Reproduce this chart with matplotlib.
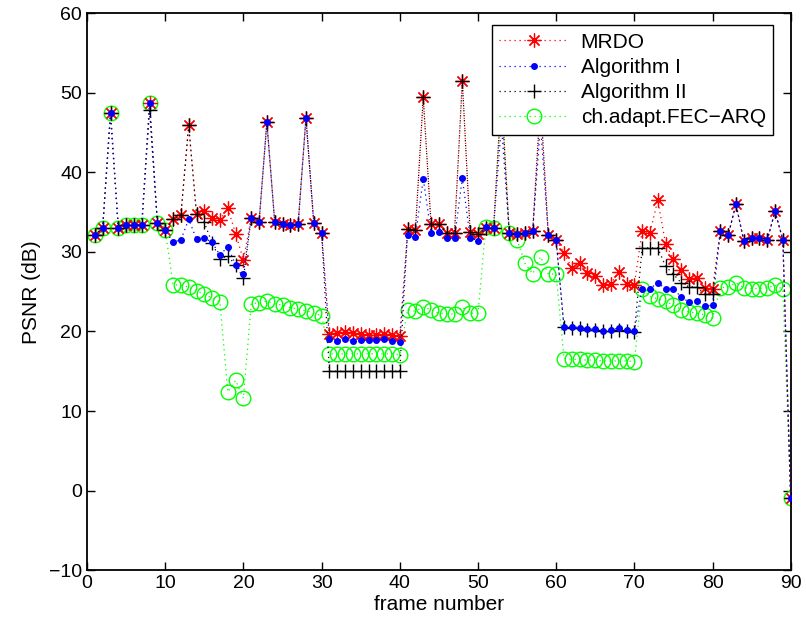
import numpy as np
import matplotlib
matplotlib.use("Agg")
import matplotlib.pyplot as plt

plt.rcParams['font.family'] = ['Liberation Sans', 'DejaVu Sans']

frames = list(range(1, 91))

mrdo = [32.1, 33.0, 47.4, 33.0, 33.4, 33.4, 33.4, 48.7, 33.6, 32.7,
        34.1, 34.6, 45.9, 34.8, 35.1, 34.2, 34.0, 35.5, 32.3, 29.0,
        34.3, 33.7, 46.3, 33.8, 33.5, 33.4, 33.5, 46.85, 33.6, 32.4,
        19.7, 19.8, 19.9, 19.8, 19.7, 19.6, 19.5, 19.7, 19.5, 19.4,
        32.9, 32.7, 49.45, 33.5, 33.5, 32.4, 32.4, 51.5, 32.5, 32.2,
        33.0, 33.0, 50.0, 32.4, 32.3, 32.4, 32.6, 49.0, 32.1, 31.5,
        29.9, 28.0, 28.6, 27.4, 27.0, 25.9, 26.0, 27.5, 26.0, 25.9,
        32.6, 32.4, 36.5, 31.0, 29.1, 27.7, 26.55, 26.75, 25.5, 25.3,
        32.6, 32.1, 36.0, 31.4, 31.8, 31.8, 31.5, 35.1, 31.5, -0.9]

alg1 = [32.1, 33.0, 47.4, 33.0, 33.4, 33.4, 33.4, 48.7, 33.6, 32.7,
        31.25, 31.5, 34.1, 31.6, 31.75, 31.2, 29.6, 30.65, 28.4, 27.2,
        34.3, 33.7, 46.3, 33.8, 33.5, 33.4, 33.5, 46.85, 33.6, 32.4,
        19.05, 18.85, 19.05, 18.85, 18.9, 18.9, 18.9, 19.0, 18.85, 18.7,
        32.1, 31.9, 39.2, 32.4, 32.55, 31.7, 31.7, 39.3, 31.8, 31.4,
        33.1, 33.0, 46.0, 32.4, 32.3, 32.4, 32.6, 46.0, 32.1, 31.5,
        20.6, 20.6, 20.5, 20.3, 20.3, 20.0, 20.15, 20.45, 20.15, 20.0,
        25.4, 25.4, 26.1, 25.4, 25.4, 24.3, 23.7, 23.8, 23.2, 23.3,
        32.6, 32.1, 36.0, 31.4, 31.8, 31.8, 31.5, 35.1, 31.5, -0.9]

alg2 = [32.1, 33.0, 47.4, 33.0, 33.4, 33.4, 33.4, 47.8, 33.6, 32.7,
        34.1, 34.6, 45.9, 34.8, 33.7, 31.1, 29.1, 29.5, 28.35, 26.7,
        34.3, 33.7, 46.3, 33.8, 33.5, 33.4, 33.5, 46.85, 33.6, 32.4,
        15.0, 15.0, 15.0, 15.0, 15.0, 15.0, 15.0, 15.0, 15.0, 15.0,
        32.9, 32.7, 49.45, 33.5, 33.5, 32.4, 32.4, 51.5, 32.5, 32.2,
        33.0, 33.0, 50.0, 32.4, 32.3, 32.4, 32.6, 49.0, 32.1, 31.5,
        20.6, 20.5, 20.4, 20.2, 20.2, 20.0, 20.0, 20.2, 20.1, 19.9,
        30.5, 30.5, 30.5, 28.2, 27.2, 26.1, 25.6, 25.6, 24.65, 24.65,
        32.6, 32.1, 36.0, 31.4, 31.8, 31.8, 31.5, 35.1, 31.5, -0.9]

fec = [32.1, 33.0, 47.4, 33.0, 33.4, 33.4, 33.4, 48.7, 33.6, 32.7,
       25.9, 25.8, 25.6, 25.1, 24.7, 24.2, 23.7, 12.4, 13.85, 11.6,
       23.5, 23.6, 23.8, 23.5, 23.3, 23.0, 22.8, 22.6, 22.3, 22.0,
       17.2, 17.2, 17.2, 17.2, 17.2, 17.2, 17.2, 17.2, 17.2, 17.1,
       22.75, 22.55, 23.05, 22.75, 22.3, 22.2, 22.2, 23.05, 22.3, 22.3,
       33.1, 33.0, 49.0, 32.4, 31.5, 28.6, 27.25, 29.4, 27.2, 27.25,
       16.6, 16.5, 16.5, 16.4, 16.4, 16.3, 16.3, 16.3, 16.3, 16.2,
       25.4, 24.4, 24.1, 23.8, 23.3, 22.75, 22.45, 22.3, 22.1, 21.7,
       25.5, 25.6, 26.1, 25.5, 25.4, 25.4, 25.5, 25.8, 25.3, -0.9]

labels = ['MRDO', 'Algorithm I', 'Algorithm II', 'ch.adapt.FEC\u2212ARQ']
xticks = [0, 10, 20, 30, 40, 50, 60, 70, 80, 90]
yticks = [-10, 0, 10, 20, 30, 40, 50, 60]

fig = plt.figure(figsize=(8.06, 6.28), dpi=100)
ax = fig.add_axes([0.108, 0.092, 0.873, 0.887])

dot = (0, (1, 3))
ax.plot(frames, mrdo, color='r', linestyle=dot, lw=0.9, marker=(8, 2, 0), ms=10,
        markeredgewidth=0.9, label=labels[0], zorder=3)
ax.plot(frames, alg1, color='b', linestyle=dot, lw=0.9, marker='.', ms=8,
        label=labels[1], zorder=5)
ax.plot(frames, alg2, color='k', linestyle=dot, lw=0.9, marker='+', ms=10,
        markeredgewidth=1.0, label=labels[2], zorder=4)
ax.plot(frames, fec, color=(0, 1, 0), linestyle=dot, lw=0.9, marker='o', ms=10.5,
        markerfacecolor='none', markeredgewidth=1.0, label=labels[3], zorder=2)

ax.set_xlim(0, 90)
ax.set_ylim(-10, 60)
ax.set_xticks(xticks)
ax.set_yticks(yticks)
ax.set_xticklabels([str(t) for t in xticks])
ax.set_yticklabels([str(t).replace('-', '\u2212') for t in yticks])
ax.tick_params(direction='in', length=6, width=1.0, labelsize=14,
               top=True, right=True)
for s in ax.spines.values():
    s.set_linewidth(1.3)
ax.set_xlabel('frame number', fontsize=15, labelpad=2)
ax.set_ylabel('PSNR (dB)', fontsize=15, labelpad=6)

leg = ax.legend(loc='upper right', bbox_to_anchor=(0.975, 0.978), fontsize=15,
                fancybox=False, edgecolor='k', framealpha=1, handlelength=3.3,
                borderpad=0.35, labelspacing=0.3, handletextpad=0.6, borderaxespad=0)
leg.set_zorder(10)
leg.get_frame().set_linewidth(1.0)

fig.savefig('out.png', dpi=100)
